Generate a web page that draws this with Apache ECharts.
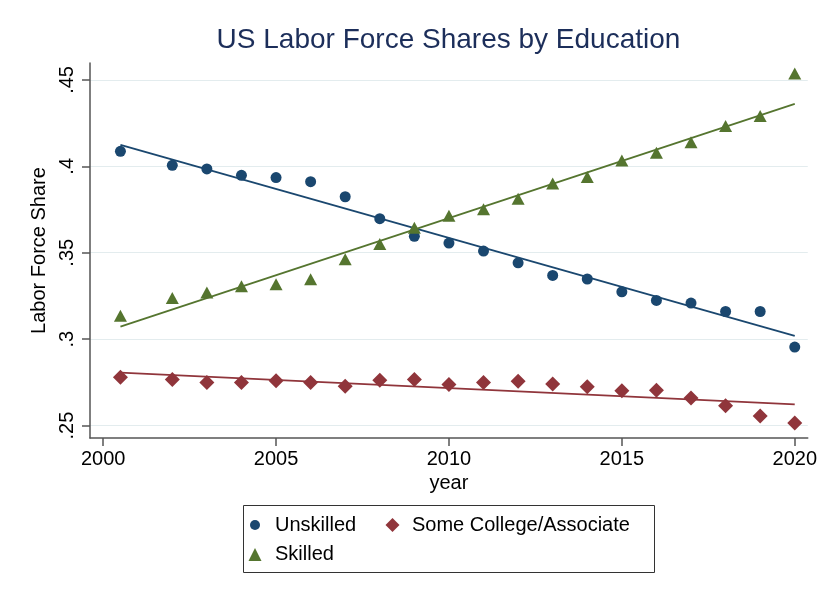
<!DOCTYPE html>
<html><head><meta charset="utf-8">
<script src="https://cdn.jsdelivr.net/npm/echarts@6/dist/echarts.min.js"></script>
<style>html,body{margin:0;padding:0;background:#fff}#c{width:820px;height:599px}</style>
</head><body><div id="c"></div>
<script>
const years = [2000.5, 2002, 2003, 2004, 2005, 2006, 2007, 2008, 2009, 2010, 2011, 2012, 2013, 2014, 2015, 2016, 2017, 2018, 2019, 2020];
const unskilled = [0.4087, 0.4006, 0.3985, 0.3948, 0.3935, 0.3911, 0.3824, 0.3697, 0.3595, 0.3556, 0.3510, 0.3442, 0.3369, 0.3348, 0.3274, 0.3224, 0.3209, 0.3160, 0.3160, 0.2954];
const someCollege = [0.2780, 0.2766, 0.2749, 0.2749, 0.2759, 0.2749, 0.2728, 0.2762, 0.2766, 0.2738, 0.2749, 0.2757, 0.2741, 0.2724, 0.2701, 0.2705, 0.2660, 0.2614, 0.2556, 0.2515];
const skilled = [0.3135, 0.3238, 0.3270, 0.3306, 0.3318, 0.3347, 0.3462, 0.3550, 0.3645, 0.3714, 0.3751, 0.3813, 0.3900, 0.3939, 0.4034, 0.4078, 0.4140, 0.4233, 0.4292, 0.4537];
const fitYears = [2000.5, 2020];
const fitUnskilled = [0.4124, 0.3019];
const fitSomeCollege = [0.2806, 0.2623];
const fitSkilled = [0.3072, 0.4361];
const xTicks = [2000, 2005, 2010, 2015, 2020];
const yTicks = [0.25, 0.3, 0.35, 0.4, 0.45];
const yTickLabels = ['.25', '.3', '.35', '.4', '.45'];

const NAVY = '#1a476f', MAROON = '#90353b', GREEN = '#55752f';
const FONT = 'Liberation Sans, Arial, sans-serif';
const pairs = (xs, ys) => xs.map((x, i) => [x, ys[i]]);

const chart = echarts.init(document.getElementById('c'), null, {renderer: 'canvas'});
function legendAt(name, cx, cy, s, textLeft) {
  return {
    data: [name], orient: 'horizontal', padding: 0, itemGap: 0,
    itemWidth: s, itemHeight: s, symbolKeepAspect: true,
    left: cx - s / 2, top: cy - 10,
    textStyle: {fontSize: 20, color: '#000', fontFamily: FONT,
      padding: [0, 0, 0, textLeft - (cx + s / 2 + 5)]},
    selectedMode: false
  };
}
chart.setOption({
  animation: false,
  backgroundColor: '#fff',
  title: {
    text: 'US Labor Force Shares by Education',
    left: 443.5, top: 21, textAlign: 'center',
    textStyle: {fontSize: 28, fontWeight: 'normal', color: '#1c2e5a', fontFamily: FONT}
  },
  grid: {left: 90, right: 12, top: 63, bottom: 161, containLabel: false},
  xAxis: {
    type: 'value', min: 1999.62, max: 2020.376,
    name: 'year', nameLocation: 'middle', nameGap: 31,
    nameTextStyle: {fontSize: 20, color: '#000', fontFamily: FONT},
    axisLine: {show: true, onZero: false, lineStyle: {color: '#555', width: 1.5}},
    axisTick: {show: true, length: 8, customValues: xTicks, lineStyle: {color: '#555', width: 1.5}},
    axisLabel: {customValues: xTicks, margin: 11, fontSize: 20, color: '#000', fontFamily: FONT,
      formatter: v => String(Math.round(v))},
    splitLine: {show: false}
  },
  yAxis: {
    type: 'value', min: 0.2428, max: 0.4598,
    name: 'Labor Force Share', nameLocation: 'middle', nameGap: 36,
    nameTextStyle: {fontSize: 20, color: '#000', fontFamily: FONT},
    axisLine: {show: true, onZero: false, lineStyle: {color: '#555', width: 1.5}},
    axisTick: {show: true, length: 8, customValues: yTicks, lineStyle: {color: '#555', width: 1.5}},
    axisLabel: {customValues: yTicks, rotate: 90, margin: 13, fontSize: 20, color: '#000', fontFamily: FONT,
      formatter: v => { const i = yTicks.findIndex(t => Math.abs(t - v) < 1e-6); return i >= 0 ? yTickLabels[i] : ''; }},
    splitLine: {show: true, lineStyle: {color: '#e3ecee', width: 1.2}}
  },
  legend: [
    legendAt('Unskilled', 255, 525, 10, 275),
    legendAt('Some College/Associate', 392.5, 525, 14, 412),
    legendAt('Skilled', 255, 554.5, 13, 275)
  ],
  graphic: [{
    type: 'rect', shape: {x: 243.5, y: 505.5, width: 411, height: 67},
    style: {fill: 'none', stroke: '#333', lineWidth: 1}, z: 10
  }],
  series: [
    {name: 'Unskilled', type: 'scatter', symbol: 'circle', symbolSize: 11,
     itemStyle: {color: NAVY, opacity: 1}, data: pairs(years, unskilled), z: 3},
    {name: 'Some College/Associate', type: 'scatter', symbol: 'diamond', symbolSize: 15,
     itemStyle: {color: MAROON, opacity: 1}, data: pairs(years, someCollege), z: 3},
    {name: 'Skilled', type: 'scatter', symbol: 'triangle', symbolSize: [13, 12],
     itemStyle: {color: GREEN, opacity: 1}, data: pairs(years, skilled), z: 3},
    {name: 'fitU', type: 'line', symbol: 'none', lineStyle: {color: NAVY, width: 1.8},
     data: pairs(fitYears, fitUnskilled), z: 2, silent: true},
    {name: 'fitS', type: 'line', symbol: 'none', lineStyle: {color: MAROON, width: 1.8},
     data: pairs(fitYears, fitSomeCollege), z: 2, silent: true},
    {name: 'fitK', type: 'line', symbol: 'none', lineStyle: {color: GREEN, width: 1.8},
     data: pairs(fitYears, fitSkilled), z: 2, silent: true}
  ]
});
</script>
</body></html>
